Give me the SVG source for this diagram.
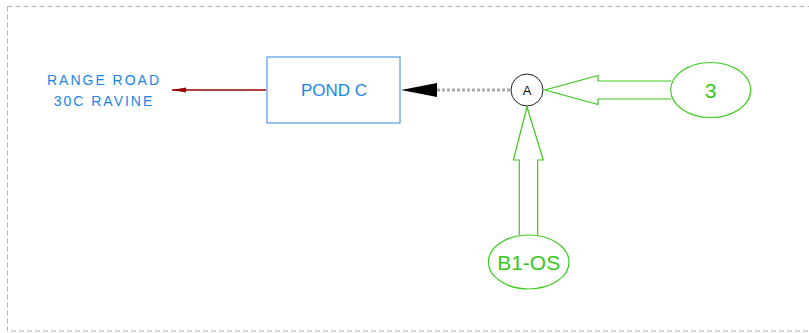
<svg xmlns="http://www.w3.org/2000/svg" width="809" height="333" viewBox="0 0 809 333">
<style>
.g{fill:none;stroke:#3ccc1e;stroke-width:1.2}
.gt{fill:#36c81a;font-family:"Liberation Sans",Arial,sans-serif;font-size:21px;text-anchor:middle}
.bt{fill:#1a86e8;font-family:"Liberation Sans",Arial,sans-serif;text-anchor:middle}
</style>
<defs>
<marker id="red" markerWidth="14" markerHeight="6" refX="14" refY="3" orient="auto" markerUnits="userSpaceOnUse">
<path d="M14,3 L0,0.6 L0,5.4 Z" fill="#990000"/>
</marker>
</defs>
<rect x="7.5" y="6.5" width="810" height="324.5" fill="none" stroke="#b0b0b0" stroke-width="1" stroke-dasharray="5,3"/>
<g id="connectors">
<line x1="266" y1="90" x2="172" y2="90" stroke="#990000" stroke-width="1.5" marker-end="url(#red)"/>
<line x1="437" y1="90" x2="510" y2="90" stroke="#aaaaaa" stroke-width="3" stroke-dasharray="3,2"/>
<path d="M401,90 L437,83 L437,97 Z" fill="#000"/>
<path class="g" d="M671,81 L598,81 L598,75.5 L545,90 L598,104.5 L598,99 L671,99"/>
<path class="g" d="M519.3,235 L519.3,160 L513.3,160 L527,107 L543.3,160 L537.7,160 L537.7,235"/>
</g>
<g id="label-range-road">
<text class="bt" x="104" y="85" font-size="14" letter-spacing="2">RANGE ROAD</text>
<text class="bt" x="104" y="106" font-size="14" letter-spacing="2">30C RAVINE</text>
</g>
<g id="pond-c">
<rect x="267" y="57" width="133" height="66" fill="#fff" stroke="#2f86e4" stroke-width="1"/>
<text class="bt" x="334" y="96" font-size="17">POND C</text>
</g>
<g id="node-a">
<circle cx="527" cy="90" r="16" fill="#fff" stroke="#222" stroke-width="1"/>
<text x="527" y="95" font-family="Liberation Sans,Arial,sans-serif" font-size="13" text-anchor="middle" fill="#111">A</text>
</g>
<g id="node-3">
<ellipse class="g" cx="710.7" cy="90" rx="40" ry="27.5" fill="#fff"/>
<text class="gt" x="710.7" y="98" font-size="22">3</text>
</g>
<g id="node-b1os">
<ellipse class="g" cx="528.7" cy="262" rx="40.3" ry="27" fill="#fff"/>
<text class="gt" x="528.7" y="269.5">B1-OS</text>
</g>
</svg>
